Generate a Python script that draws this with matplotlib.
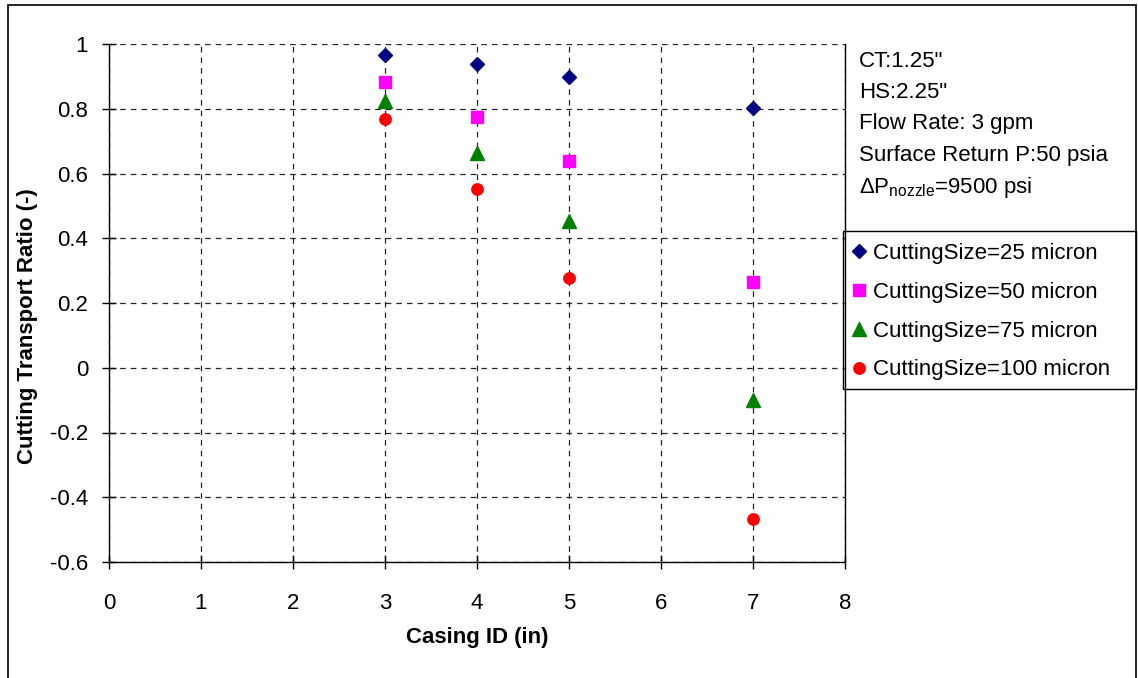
import matplotlib
matplotlib.use('Agg')
import matplotlib.pyplot as plt
from matplotlib.patches import Rectangle

plt.rcParams['font.family'] = ['Liberation Sans', 'DejaVu Sans']
plt.rcParams['mathtext.fontset'] = 'custom'
plt.rcParams['mathtext.rm'] = 'Liberation Sans'
plt.rcParams['mathtext.it'] = 'Liberation Sans:italic'

casing_id = [3, 4, 5, 7]
ratio_25 = [0.966, 0.938, 0.898, 0.802]
ratio_50 = [0.883, 0.775, 0.639, 0.265]
ratio_75 = [0.824, 0.663, 0.453, -0.100]
ratio_100 = [0.768, 0.552, 0.277, -0.467]
series_labels = ['CuttingSize=25 micron', 'CuttingSize=50 micron',
                 'CuttingSize=75 micron', 'CuttingSize=100 micron']
notes = ['CT:1.25"', 'HS:2.25"', 'Flow Rate: 3 gpm', 'Surface Return P:50 psia',
         r'ΔP$_{\mathrm{nozzle}}$=9500 psi']

W, H = 1138, 678
fig = plt.figure(figsize=(W / 100, H / 100), dpi=100)
ax = fig.add_axes([109 / W, 1 - 562 / H, (845 - 109) / W, (562 - 44) / H])

fs = 16
ax.plot(casing_id, ratio_25, 'D', color='#000080', ms=7.5, mec='#000080', label=series_labels[0])
ax.plot(casing_id, ratio_50, 's', color='#FF00FF', ms=8.4, mec='#FF00FF', label=series_labels[1])
ax.plot(casing_id, ratio_75, '^', color='#008000', ms=9.8, mec='#008000', label=series_labels[2])
ax.plot(casing_id, ratio_100, 'o', color='#FF0000', ms=8.2, mec='#FF0000', label=series_labels[3])

ax.set_xlim(0, 8)
ax.set_ylim(-0.6, 1)
ax.set_xticks(range(0, 9))
ax.set_yticks([-0.6, -0.4, -0.2, 0, 0.2, 0.4, 0.6, 0.8, 1])
ax.set_yticklabels(['-0.6', '-0.4', '-0.2', '0', '0.2', '0.4', '0.6', '0.8', '1'])
ax.tick_params(direction='inout', length=10, width=1, labelsize=fs)
ax.tick_params(axis='x', pad=17)
ax.tick_params(axis='y', pad=10)
ax.grid(True, color='black', linestyle=(0, (4.5, 4)), linewidth=0.9, alpha=0.85)
ax.set_axisbelow(True)
ax.spines['top'].set_visible(False)
for s in ['left', 'bottom', 'right']:
    ax.spines[s].set_linewidth(1)
    ax.spines[s].set_color('black')

fig.text(477 / W, 1 - 638 / H, 'Casing ID (in)', ha='center', va='center',
         fontsize=fs, fontweight='bold')
fig.text(28 / W, 1 - 326 / H, 'Cutting Transport Ratio (-)', ha='center', va='center',
         rotation=90, fontsize=fs, fontweight='bold')

note_base = [67, 98, 129, 161, 193]
for txt, yy in zip(notes, note_base):
    fig.text(859 / W, 1 - yy / H, txt, ha='left', va='baseline', fontsize=fs)

# legend without its own frame; box drawn separately to match the reference
leg = fig.legend(loc='upper left', bbox_to_anchor=(851 / W, 1 - 243 / H),
                 fontsize=fs, frameon=False,
                 handlelength=0.7, handletextpad=0.3, labelspacing=0.8,
                 borderpad=0, borderaxespad=0, numpoints=1)
fig.patches.append(Rectangle((843 / W, 1 - 389 / H), (1136 - 843) / W, (389 - 231) / H,
                             transform=fig.transFigure, fill=False,
                             edgecolor='black', linewidth=1))

fig.patches.append(Rectangle((8 / W, -0.1), (1136 - 8) / W, 1.1 - 5 / H,
                             transform=fig.transFigure, fill=False,
                             edgecolor='black', linewidth=1.2))

fig.savefig('out.png', dpi=100)
